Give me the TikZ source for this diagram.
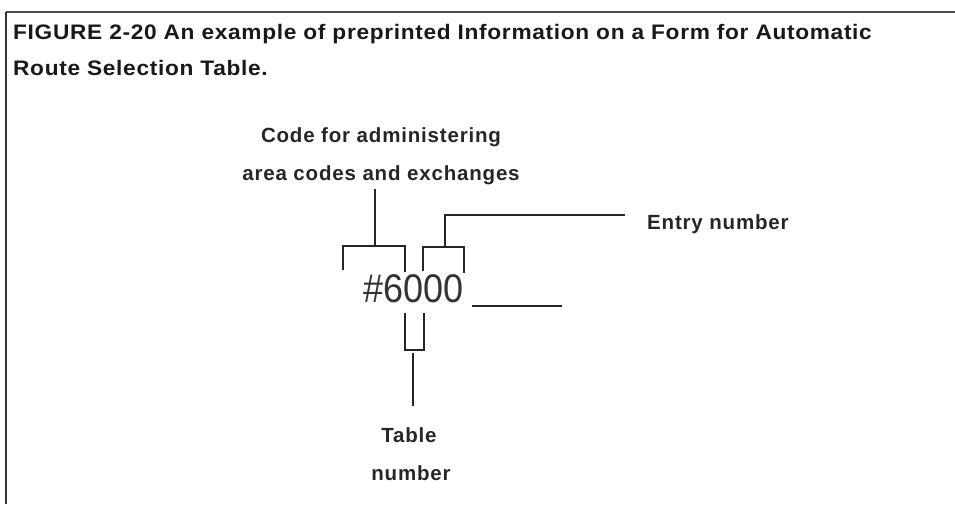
\documentclass[tikz,border=0pt]{standalone}
\usepackage{fontspec}
\setmainfont{Liberation Sans}
\newfontfamily\lblfont[LetterSpace=4]{Liberation Sans}
\newfontfamily\ttlfont[LetterSpace=3]{Liberation Sans}
\begin{document}
\begin{tikzpicture}[x=1pt,y=-1pt,
  ln/.style={line width=1.6pt,black!85},
  lbl/.style={font=\lblfont\fontsize{20.5}{24}\selectfont\bfseries,inner sep=0pt,anchor=base,text=black!85},
  ttl/.style={font=\ttlfont\fontsize{21}{24}\selectfont\bfseries,inner sep=0pt,anchor=base west,text=black!90}]
\useasboundingbox (0,0) rectangle (955,504);
% frame
\coordinate (ftl) at (6,12);
\coordinate (ftr) at (955,12);
\coordinate (fbl) at (6,504);
\draw[line width=2.4pt,black!70] (ftr) -- (ftl);
\draw[line width=1.8pt,black!80] (ftl) -- (fbl);
% title
\node[ttl] (t1) at (13,39) {\scalebox{1.08}[1]{FIGURE 2-20 An example of preprinted Information on a Form for Automatic}};
\node[ttl] (t2) at (13,75) {\scalebox{1.08}[1]{Route Selection Table.}};
% labels
\node[lbl] (code1) at (381,142) {Code for administering};
\node[lbl] (code2) at (381,180) {area codes and exchanges};
\node[lbl,anchor=base west] (entry) at (647,229) {Entry number};
\node[lbl] (tab1) at (409,442) {Table};
\node[lbl] (tab2) at (411,480) {number};
% main number
\node[inner sep=0pt,anchor=base west,font=\fontsize{40}{44}\selectfont,text=black!80] (num) at (363,302) {\scalebox{0.9}[1]{\#6000}};
\coordinate (us1) at (472,306);
\coordinate (us2) at (562,306);
\draw[ln] (us1) -- (us2);
% left bracket (area codes)
\coordinate (lb1) at (343,270);
\coordinate (lb2) at (343,246);
\coordinate (lb3) at (405,246);
\coordinate (lb4) at (405,272);
\coordinate (ls1) at (375,246);
\coordinate (ls2) at (375,189);
\draw[ln] (lb1) -- (lb2) -- (lb3) -- (lb4);
\draw[ln] (ls1) -- (ls2);
% right bracket (entry)
\coordinate (rb1) at (423,271);
\coordinate (rb2) at (423,247);
\coordinate (rb3) at (464,247);
\coordinate (rb4) at (464,273);
\coordinate (rs1) at (445,247);
\coordinate (rs2) at (445,215);
\coordinate (rs3) at (625,215);
\draw[ln] (rb1) -- (rb2) -- (rb3) -- (rb4);
\draw[ln] (rs1) -- (rs2) -- (rs3);
% lower bracket (table)
\coordinate (bb1) at (405,313);
\coordinate (bb2) at (405,350);
\coordinate (bb3) at (424,350);
\coordinate (bb4) at (424,313);
\coordinate (bs1) at (413,353);
\coordinate (bs2) at (413,406);
\draw[ln] (bb1) -- (bb2) -- (bb3) -- (bb4);
\draw[ln] (bs1) -- (bs2);
\end{tikzpicture}
\end{document}
